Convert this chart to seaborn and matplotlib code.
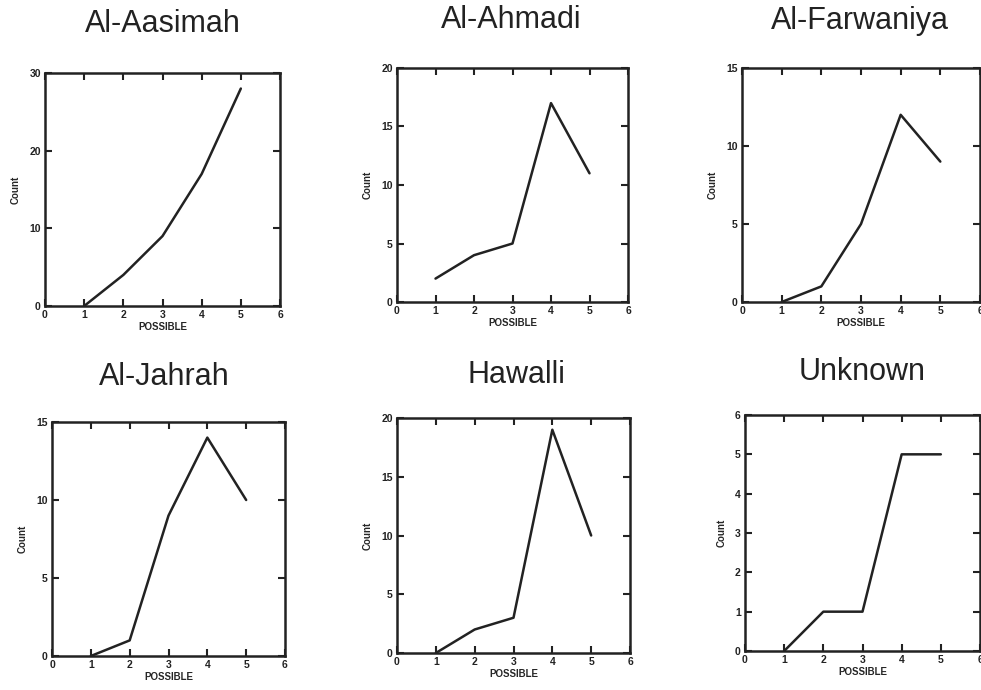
import matplotlib
matplotlib.use("Agg")
import matplotlib.pyplot as plt
import seaborn as sns
import pandas as pd

regions = ["Al-Aasimah", "Al-Ahmadi", "Al-Farwaniya", "Al-Jahrah", "Hawalli", "Unknown"]
possible = [1, 2, 3, 4, 5]
aasimah = [0, 4, 9, 17, 28]
ahmadi = [2, 4, 5, 17, 11]
farwaniya = [0, 1, 5, 12, 9]
jahrah = [0, 1, 9, 14, 10]
hawalli = [0, 2, 3, 19, 10]
unknown = [0, 1, 1, 5, 5]
counts = [aasimah, ahmadi, farwaniya, jahrah, hawalli, unknown]
ymax = [30, 20, 15, 15, 20, 6]
ystep = [10, 5, 5, 5, 5, 1]

sns.set_style("ticks")
plt.rcParams['font.family'] = ['Liberation Sans', 'DejaVu Sans']

fig = plt.figure(figsize=(9.81, 6.90), dpi=100)

W, H = 981, 690
boxes = [(45, 73, 280, 306), (397, 68, 628, 302), (742, 68, 980, 302),
         (52, 422, 285, 656), (397, 418, 630, 653), (745, 415, 980, 651)]
title_pos = [(163, 24), (511, 20), (860, 21), (164, 377), (516, 375), (862, 372)]

for i, name in enumerate(regions):
    l, t, r, b = boxes[i]
    ax = fig.add_axes([l / W, 1 - b / H, (r - l) / W, (b - t) / H])
    df = pd.DataFrame({"POSSIBLE": possible, "Count": counts[i]})
    sns.lineplot(data=df, x="POSSIBLE", y="Count", ax=ax, color="#222222", linewidth=1.8)
    ax.set_xlim(0, 6)
    ax.set_ylim(0, ymax[i])
    ax.set_xticks(range(0, 7))
    ax.set_yticks(range(0, ymax[i] + 1, ystep[i]))
    ax.tick_params(direction="in", top=True, right=True, length=5, width=1.5,
                   labelsize=7.5, pad=3, colors="#222222")
    for lab in ax.get_xticklabels() + ax.get_yticklabels():
        lab.set_fontweight("bold")
    for s in ax.spines.values():
        s.set_linewidth(1.8)
        s.set_color("#222222")
        s.set_visible(True)
    ax.set_xlabel("POSSIBLE", fontsize=7, fontweight="bold", labelpad=1)
    ax.set_ylabel("Count", fontsize=7, fontweight="bold", labelpad=6)
    fig.text(title_pos[i][0] / W, 1 - title_pos[i][1] / H, name, ha="center", va="center",
             fontsize=22, color="#222222")

fig.savefig("out.png", dpi=100)
